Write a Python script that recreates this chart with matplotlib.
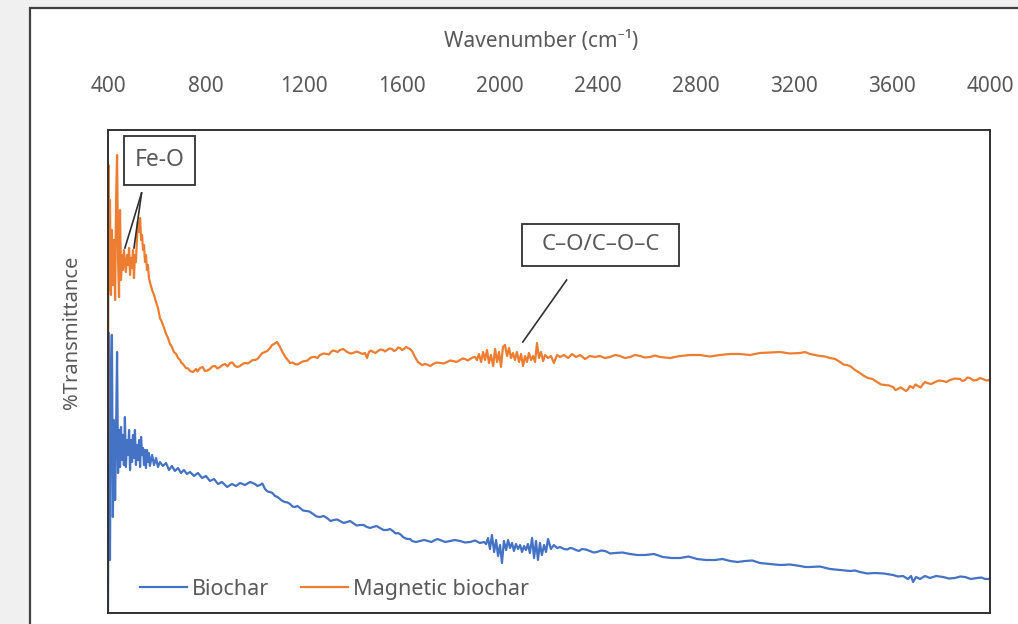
import matplotlib
matplotlib.use("Agg")
import matplotlib.pyplot as plt
from matplotlib.patches import Rectangle

plt.rcParams['font.family'] = ['Noto Sans', 'DejaVu Sans']

# ---------------- data ----------------
mag_wn = [400, 402, 404, 408, 412, 416, 420, 424, 429, 433, 437, 441, 445, 449, 453, 457, 461, 465,
          469, 473, 478, 482, 486, 490, 494, 498, 502, 506, 510, 514, 518, 522, 527, 531, 535, 539,
          543, 547, 551, 555, 559, 563, 567, 571, 580, 588, 596, 604, 612, 620, 629, 637, 645, 653,
          661, 669, 678, 686, 694, 706, 718, 735, 747, 759, 776, 796, 816, 837, 857, 878, 898, 918,
          939, 959, 980, 1000, 1020, 1041, 1061, 1078, 1090, 1102, 1114, 1127, 1143, 1163, 1184,
          1204, 1225, 1245, 1265, 1294, 1310, 1327, 1347, 1376, 1400, 1429, 1449, 1457, 1465, 1482,
          1502, 1523, 1539, 1559, 1576, 1592, 1608, 1625, 1641, 1653, 1665, 1682, 1706, 1727, 1755,
          1784, 1808, 1837, 1857, 1878, 1898, 1906, 1914, 1923, 1931, 1939, 1947, 1955, 1963, 1972,
          1980, 1988, 1996, 2004, 2012, 2020, 2029, 2037, 2045, 2053, 2061, 2069, 2078, 2086, 2094,
          2102, 2110, 2118, 2127, 2135, 2143, 2151, 2159, 2167, 2176, 2184, 2196, 2208, 2220, 2233,
          2245, 2261, 2278, 2294, 2310, 2327, 2347, 2367, 2388, 2408, 2449, 2490, 2531, 2572, 2612,
          2653, 2735, 2816, 2898, 2980, 3061, 3143, 3225, 3265, 3306, 3347, 3388, 3416, 3449, 3469,
          3502, 3539, 3571, 3604, 3624, 3645, 3657, 3673, 3686, 3706, 3727, 3743, 3776, 3808, 3837,
          3878, 3898, 3918, 3947, 3971, 4000]
mag_t = [30.0, 89.6, 64.6, 82.6, 63.6, 76.6, 65.6, 74.6, 62.6, 82.6, 91.6, 70.6, 63.2, 80.6, 66.6,
         71.6, 68.6, 72.6, 70.2, 68.2, 71.6, 69.6, 73.0, 67.6, 71.0, 69.0, 72.6, 67.0, 71.6, 70.2,
         74.6, 78.2, 76.2, 79.0, 74.6, 75.6, 72.6, 73.6, 70.2, 71.6, 68.6, 69.6, 67.0, 66.2, 64.6,
         63.6, 62.2, 61.0, 59.0, 58.2, 57.0, 55.8, 55.0, 53.8, 53.2, 52.2, 51.8, 51.0, 50.6, 49.8,
         49.0, 48.4, 48.2, 48.8, 49.0, 48.4, 48.8, 49.4, 49.2, 49.8, 50.0, 49.4, 49.4, 50.0, 50.2,
         50.6, 51.4, 52.2, 53.0, 53.8, 54.2, 53.2, 52.0, 51.0, 50.0, 49.8, 50.0, 50.4, 51.0, 51.2,
         51.6, 51.8, 52.2, 52.4, 52.6, 52.2, 52.0, 52.0, 52.0, 51.0, 52.2, 52.2, 52.4, 52.6, 52.6,
         52.8, 52.6, 53.0, 52.8, 53.0, 52.4, 51.2, 50.2, 49.6, 49.6, 49.8, 50.0, 50.2, 50.4, 50.6,
         50.8, 50.8, 51.2, 50.6, 51.8, 50.2, 52.2, 50.6, 52.6, 50.0, 51.6, 49.4, 52.8, 50.2, 52.2,
         49.2, 53.2, 53.6, 51.4, 53.0, 51.0, 52.0, 50.6, 52.2, 50.2, 51.8, 49.4, 51.4, 50.2, 52.0,
         50.6, 51.4, 50.2, 54.0, 51.0, 52.2, 50.4, 51.6, 51.0, 51.4, 50.0, 51.6, 51.2, 51.6, 51.0,
         51.8, 51.2, 51.6, 50.8, 51.4, 51.2, 51.4, 51.2, 51.4, 51.2, 51.4, 51.2, 51.2, 51.4, 51.6,
         51.6, 51.8, 52.0, 52.2, 52.0, 51.8, 51.4, 51.0, 50.2, 49.6, 48.6, 48.0, 47.0, 46.2, 45.6,
         45.2, 44.8, 44.8, 44.4, 45.4, 45.0, 45.4, 45.8, 46.0, 46.2, 46.4, 46.6, 46.8, 46.6, 47.0,
         46.6, 46.8, 46.6]
# extra readings of the small ripple along the smoother stretches
mag_wn_extra = [700, 727, 765, 786, 806, 826, 847, 868, 888, 908, 928, 949, 970, 990, 1010, 1030,
                1050, 1070, 1153, 1173, 1194, 1214, 1235, 1255, 1280, 1302, 1318, 1337, 1360, 1390,
                1415, 1439, 1473, 1492, 1512, 1531, 1549, 1567, 1584, 1600, 1616, 1633, 1694, 1716,
                1741, 1770, 1796, 1822, 1847, 1868, 1888, 2428, 2470, 2510, 2551, 2592, 2632, 2694,
                2776, 2857, 2939, 3020, 3102, 3184, 3245, 3286, 3326, 3368, 3402, 3432, 3486, 3520,
                3555, 3588, 3614, 3635, 3665, 3696, 3717, 3735, 3760, 3792, 3822, 3857, 3888, 3908,
                3932, 3959, 3985]
mag_t_extra = [50.0, 48.9, 48.3, 49.2, 48.5, 49.3, 48.9, 49.6, 49.3, 50.1, 49.2, 49.8, 49.9, 50.6,
               50.8, 52.0, 52.4, 53.6, 50.1, 49.7, 50.3, 50.5, 51.2, 51.0, 51.9, 51.7, 52.5, 52.2,
               52.8, 51.9, 52.3, 51.8, 52.5, 52.0, 52.7, 52.3, 52.9, 52.4, 53.1, 52.6, 53.2, 52.8,
               49.8, 49.4, 50.1, 49.9, 50.5, 50.2, 50.9, 50.5, 51.1, 51.0, 51.6, 51.0, 51.6, 51.1,
               51.5, 51.0, 51.6, 51.3, 51.8, 51.6, 52.1, 51.9, 52.2, 51.6, 51.3, 50.8, 49.7, 49.3,
               47.4, 46.8, 45.7, 45.5, 44.6, 45.1, 44.7, 45.7, 45.1, 46.2, 45.8, 46.5, 46.2, 46.9,
               46.4, 47.1, 46.5, 47.0, 46.5]

bio_wn = [400, 404, 408, 412, 416, 420, 424, 429, 433, 437, 441, 445, 449, 453, 457, 461, 465,
          469, 473, 478, 482, 486, 490, 494, 498, 502, 506, 510, 514, 518, 522, 527, 531, 535, 539,
          543, 547, 551, 555, 559, 563, 567, 571, 580, 588, 596, 604, 612, 624, 637, 649, 661, 673,
          686, 698, 710, 722, 735, 751, 767, 784, 800, 816, 833, 849, 865, 886, 906, 922, 939, 959,
          980, 1000, 1020, 1041, 1061, 1082, 1102, 1122, 1143, 1163, 1184, 1208, 1237, 1265, 1294,
          1322, 1347, 1376, 1400, 1429, 1457, 1482, 1510, 1539, 1563, 1584, 1604, 1625, 1641, 1674,
          1706, 1735, 1755, 1796, 1837, 1878, 1918, 1935, 1943, 1951, 1959, 1967, 1976, 1984, 1992,
          2000, 2008, 2016, 2025, 2033, 2041, 2049, 2057, 2065, 2074, 2082, 2090, 2098, 2106, 2114,
          2122, 2131, 2139, 2147, 2155, 2163, 2171, 2180, 2188, 2196, 2208, 2220, 2233, 2245, 2261,
          2286, 2310, 2335, 2367, 2396, 2429, 2470, 2531, 2592, 2665, 2735, 2804, 2878, 2939, 3000,
          3061, 3143, 3225, 3265, 3347, 3429, 3469, 3531, 3604, 3645, 3665, 3678, 3686, 3698, 3714,
          3735, 3755, 3808, 3857, 3898, 3947, 3980, 4000]
bio_t = [0.4, 56.0, 10.6, 46.6, 55.6, 19.2, 38.6, 22.6, 36.6, 52.2, 28.0, 36.6, 29.2, 37.2, 30.6,
         35.6, 29.6, 39.2, 29.2, 34.6, 31.6, 36.6, 28.6, 34.6, 30.2, 35.6, 31.0, 36.6, 29.6, 33.6,
         30.6, 34.6, 29.2, 35.2, 31.6, 33.0, 29.6, 32.6, 29.0, 32.6, 30.2, 32.0, 29.4, 31.6, 29.6,
         31.0, 29.2, 30.2, 29.4, 30.0, 28.6, 29.4, 28.4, 29.0, 28.0, 28.6, 27.8, 28.2, 27.4, 28.0,
         27.0, 27.4, 26.4, 26.8, 25.8, 26.2, 25.2, 25.8, 25.4, 26.0, 25.6, 26.2, 25.8, 25.6, 24.8,
         24.2, 23.4, 22.8, 22.2, 21.8, 21.2, 21.0, 20.4, 19.8, 19.2, 19.0, 18.6, 18.4, 18.2, 18.0,
         17.6, 17.2, 17.2, 17.0, 16.6, 16.4, 16.0, 15.2, 14.8, 14.4, 14.4, 14.4, 14.6, 14.6, 14.4,
         14.4, 14.2, 14.0, 14.2, 13.8, 15.0, 12.8, 15.6, 12.2, 14.6, 11.4, 13.6, 10.0, 14.4, 12.6,
         14.6, 13.0, 14.0, 12.4, 13.8, 12.8, 13.6, 12.2, 13.4, 12.6, 13.8, 12.0, 15.0, 11.0, 14.4,
         10.6, 14.0, 11.6, 13.6, 12.2, 14.8, 12.8, 13.6, 13.0, 13.2, 12.8, 13.0, 12.6, 12.8, 12.4,
         12.2, 12.4, 12.0, 11.8, 11.6, 11.2, 11.0, 10.8, 10.6, 10.4, 10.4, 10.0, 9.6, 9.4, 9.2, 8.8,
         8.4, 8.2, 8.0, 7.6, 7.4, 6.8, 7.4, 6.2, 7.2, 6.8, 7.4, 7.0, 7.2, 7.0, 7.2, 7.0, 6.8, 6.8]
bio_wn_extra = [1010, 1030, 1051, 1071, 1092, 1112, 1133, 1153, 1173, 1196, 1222, 1251, 1280, 1308,
                1335, 1362, 1388, 1415, 1443, 1470, 1496, 1525, 1551, 1574, 1594, 1615, 1633, 1657,
                1690, 1720, 1745, 1776, 1816, 1857, 1898, 2275, 2298, 2322, 2350, 2382, 2412, 2450,
                2500, 2560, 2628, 2700, 2770, 2840, 2908, 2970, 3030, 3100, 3184, 3245, 3306, 3388,
                3449, 3500, 3567, 3625, 3780, 3832, 3878, 3922, 3965]
bio_t_extra = [25.4, 25.9, 24.3, 24.0, 23.2, 22.4, 22.1, 21.3, 21.4, 20.5, 20.3, 19.3, 19.4, 18.4,
               18.7, 18.0, 18.4, 17.5, 17.6, 17.0, 17.4, 16.6, 16.8, 15.9, 15.7, 14.9, 14.8, 14.2,
               14.6, 14.2, 14.8, 14.2, 14.6, 14.1, 14.5, 12.7, 12.9, 12.4, 12.7, 12.1, 12.5, 11.9,
               12.1, 11.6, 11.8, 11.0, 11.3, 10.6, 10.8, 10.2, 10.5, 9.8, 9.7, 9.2, 9.3, 8.6, 8.5,
               7.9, 7.9, 7.3, 7.4, 6.9, 7.3, 6.8, 7.1]

series_names = ["Biochar", "Magnetic biochar"]
series_colors = ["#4472C4", "#ED7D31"]
xticks = [400, 800, 1200, 1600, 2000, 2400, 2800, 3200, 3600, 4000]

TXT = "#595959"


def merged(wn, t, wn_x, t_x):
    pairs = sorted(zip(list(wn) + list(wn_x), list(t) + list(t_x)))
    return [p[0] for p in pairs], [p[1] for p in pairs]


bio_x, bio_y = merged(bio_wn, bio_t, bio_wn_extra, bio_t_extra)
mag_x, mag_y = merged(mag_wn, mag_t, mag_wn_extra, mag_t_extra)

# ---------------- figure ----------------
fig = plt.figure(figsize=(10.18, 6.24), dpi=100, facecolor="#f0f0f0")

# white chart panel with border (own background axes, drawn below the plot)
bg = fig.add_axes([0, 0, 1, 1], zorder=-5)
bg.set_axis_off()
bg.set_xlim(0, 1)
bg.set_ylim(0, 1)
bg.add_patch(Rectangle((30 / 1018, -0.05), 1.1, 1 - 8 / 624 + 0.05,
                       facecolor="white", edgecolor="#404040", linewidth=1.6))

ax = fig.add_axes([108 / 1018, 11 / 624, 882 / 1018, 483 / 624], zorder=1)
ax.set_facecolor("white")

ax.plot(bio_x, bio_y, color=series_colors[0], lw=1.6, label=series_names[0])
ax.plot(mag_x, mag_y, color=series_colors[1], lw=1.6, label=series_names[1])

ax.set_xlim(400, 4000)
ax.set_ylim(0, 96.6)
ax.xaxis.set_ticks_position("top")
ax.set_xticks(xticks)
ax.set_xticklabels([str(t) for t in xticks])
ax.tick_params(axis="x", length=0, pad=24, labelsize=15, labelcolor=TXT)
ax.set_yticks([])
for s in ax.spines.values():
    s.set_color("#303030")
    s.set_linewidth(1.4)

fig.text(541 / 1018, 1 - 42 / 624, "Wavenumber (cm\u207b\u00b9)", ha="center", va="center",
         fontsize=15, color=TXT)
fig.text(72 / 1018, 1 - 332 / 624, "%Transmittance", ha="center", va="center", rotation=90,
         fontsize=14.5, color=TXT)

# legend
leg = ax.legend(loc="center left", bbox_to_anchor=(0.036, 0.049), ncol=2, frameon=False,
                fontsize=15.5, handlelength=2.2, handletextpad=0.2, columnspacing=1.5,
                borderaxespad=0, borderpad=0)
for t in leg.get_texts():
    t.set_color(TXT)

# annotations
ax.add_patch(Rectangle((465, 85.6), 290, 9.8, facecolor="white", edgecolor="#303030",
                       linewidth=1.3, zorder=5))
ax.text(610, 90.5, "Fe-O", ha="center", va="center", fontsize=16.5, color=TXT, zorder=6)
ax.plot([537, 469], [84.0, 73.0], color="#303030", lw=1.2, zorder=6)
ax.plot([537, 506], [84.0, 73.0], color="#303030", lw=1.2, zorder=6)

ax.add_patch(Rectangle((2090, 69.4), 641, 8.4, facecolor="white", edgecolor="#303030",
                       linewidth=1.3, zorder=5))
ax.text(2410, 73.6, "C\u2013O/C\u2013O\u2013C", ha="center", va="center", fontsize=16,
        color=TXT, zorder=6)
ax.plot([2272, 2093], [66.6, 54.2], color="#303030", lw=1.2, zorder=6)

fig.savefig("out.png", dpi=100, facecolor=fig.get_facecolor())
